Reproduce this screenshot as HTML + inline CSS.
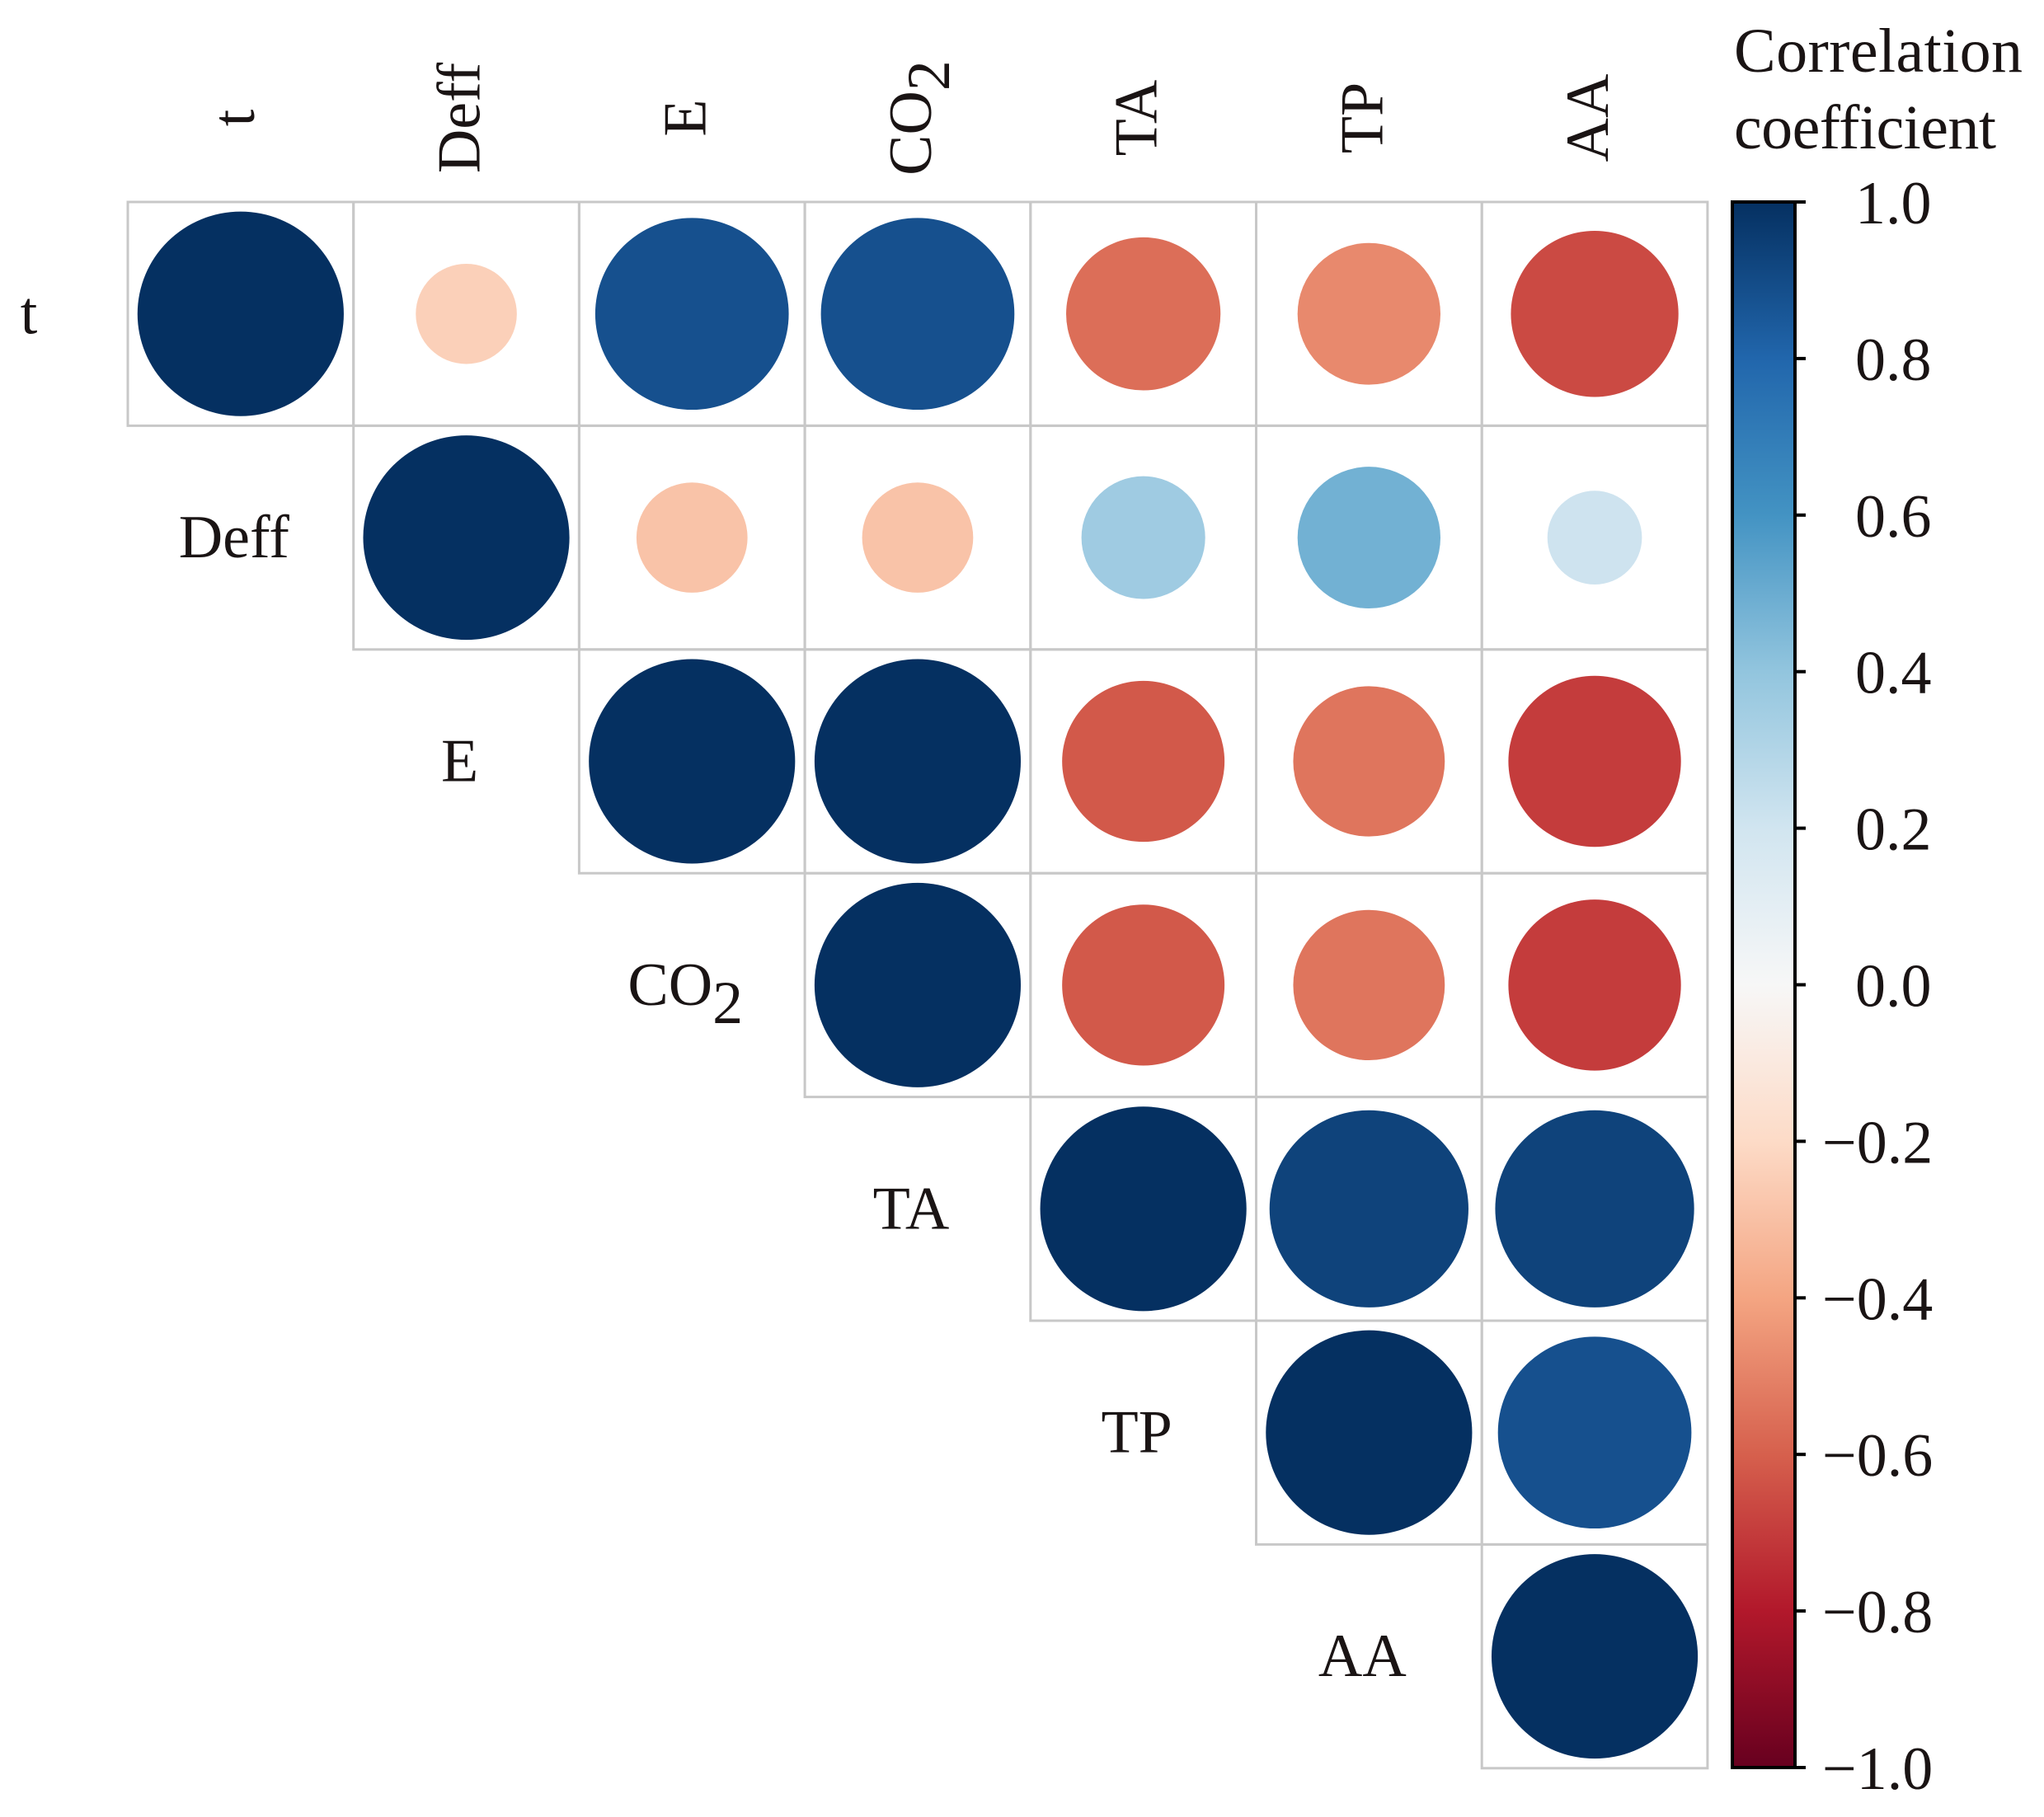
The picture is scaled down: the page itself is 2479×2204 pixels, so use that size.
<!DOCTYPE html>
<html><head><meta charset="utf-8"><style>
html,body{margin:0;padding:0;background:#fff;}
svg{display:block;}
text{font-family:"Liberation Serif",serif;fill:#1a1414;}
</style></head><body>
<svg id="chart" width="2479" height="2204" viewBox="0 0 2479 2204">
<defs>
<linearGradient id="cbgrad" x1="0" y1="1" x2="0" y2="0">
<stop offset="0" stop-color="#67001f"/><stop offset="0.1" stop-color="#b2182b"/><stop offset="0.2" stop-color="#d6604d"/><stop offset="0.3" stop-color="#f4a582"/><stop offset="0.4" stop-color="#fddbc7"/><stop offset="0.5" stop-color="#f7f7f7"/><stop offset="0.6" stop-color="#d1e5f0"/><stop offset="0.7" stop-color="#92c5de"/><stop offset="0.8" stop-color="#4393c3"/><stop offset="0.9" stop-color="#2166ac"/><stop offset="1" stop-color="#053061"/>
</linearGradient>
</defs>
<g id="grid"></g>
<g id="circles"></g>
<g id="labels"></g>
<g id="cbar">
<rect x="2101" y="245" width="76" height="1899" fill="url(#cbgrad)" stroke="#000" stroke-width="4"/>
<text x="2103" y="87" font-size="76" textLength="350">Correlation</text>
<text x="2103" y="180" font-size="76" textLength="318">coefficient</text>
</g>
</svg>
<script>
const variables = ["t","Deff","E","CO2","TA","TP","AA"];
// upper-triangle correlation rows (row i, columns i..6)
const rowT    = [1, -0.24, 0.88, 0.88, -0.56, -0.48, -0.66];
const rowDeff = [1, -0.29, -0.29, 0.36, 0.48, 0.21];
const rowE    = [1, 1, -0.62, -0.54, -0.70];
const rowCO2  = [1, -0.62, -0.54, -0.70];
const rowTA   = [1, 0.93, 0.93];
const rowTP   = [1, 0.88];
const rowAA   = [1];
const cbTicks = [1.0, 0.8, 0.6, 0.4, 0.2, 0.0, -0.2, -0.4, -0.6, -0.8, -1.0];

const rows = [rowT,rowDeff,rowE,rowCO2,rowTA,rowTP,rowAA];
const NS="http://www.w3.org/2000/svg";
const X0=155, Y0=245, CW=273.7, CH=271.4;
const xs = c => X0 + c*CW;
const ys = r => Y0 + r*CH;
const cbY = v => 245 + (1 - v)/2*1899;
const stops=[[0x67,0x00,0x1f],[0xb2,0x18,0x2b],[0xd6,0x60,0x4d],[0xf4,0xa5,0x82],[0xfd,0xdb,0xc7],[0xf7,0xf7,0xf7],[0xd1,0xe5,0xf0],[0x92,0xc5,0xde],[0x43,0x93,0xc3],[0x21,0x66,0xac],[0x05,0x30,0x61]];
function cmap(v){const t=(v+1)/2*10;let i=Math.min(9,Math.floor(t));const f=t-i;const a=stops[i],b=stops[i+1];
 return "rgb("+a.map((c,k)=>Math.round(c+(b[k]-c)*f)).join(",")+")";}
function mk(tag,attrs,parent){const e=document.createElementNS(NS,tag);for(const k in attrs)e.setAttribute(k,attrs[k]);parent.appendChild(e);return e;}
const grid=document.getElementById("grid"), circ=document.getElementById("circles"), lab=document.getElementById("labels"), cb=document.getElementById("cbar");
rows.forEach((row,i)=>{
  row.forEach((v,j0)=>{
    const j=i+j0;
    const r=mk("rect",{x:xs(j),y:ys(i),width:CW,height:CH,fill:"none",stroke:"#c8c8c8","stroke-width":3},grid);
    
    
    const rad=0.457*CW*Math.sqrt(Math.abs(v));
    const c=mk("ellipse",{cx:xs(j)+CW/2,cy:ys(i)+CH/2,rx:rad,ry:rad*CH/CW,fill:cmap(v)},circ);
    
    
  });
});
function labelText(el,name){
  if(name==="CO2"){el.textContent="CO";const s=document.createElementNS(NS,"tspan");s.setAttribute("baseline-shift","-30%");s.textContent="2";el.appendChild(s);}
  else el.textContent=name;
}
variables.forEach((name,i)=>{
  const cx = i===0 ? 35 : xs(i-1)+CW/2 - 8;
  const t=mk("text",{x:cx,y:ys(i)+CH/2+24,"font-size":74,"text-anchor":"middle"},lab);
  labelText(t,name);
  
  
  const cx2=xs(i)+CW/2+16, cy2=143;
  const t2=mk("text",{x:cx2,y:cy2,"font-size":74,"text-anchor":"middle",transform:"rotate(-90 "+cx2+" "+cy2+")"},lab);
  labelText(t2,name);
  
  
});
cbTicks.forEach(v=>{
  const y=cbY(v);
  const l=mk("line",{x1:2177,x2:2190,y1:y,y2:y,stroke:"#000","stroke-width":4},cb);
  
  
  const s=(v<0?"\u2212":"")+Math.abs(v).toFixed(1);
  const t=mk("text",{x:v<0?2210:2250,y:y+26,"font-size":74},cb);
  t.textContent=s;
  
  
});
</script>
</body></html>
